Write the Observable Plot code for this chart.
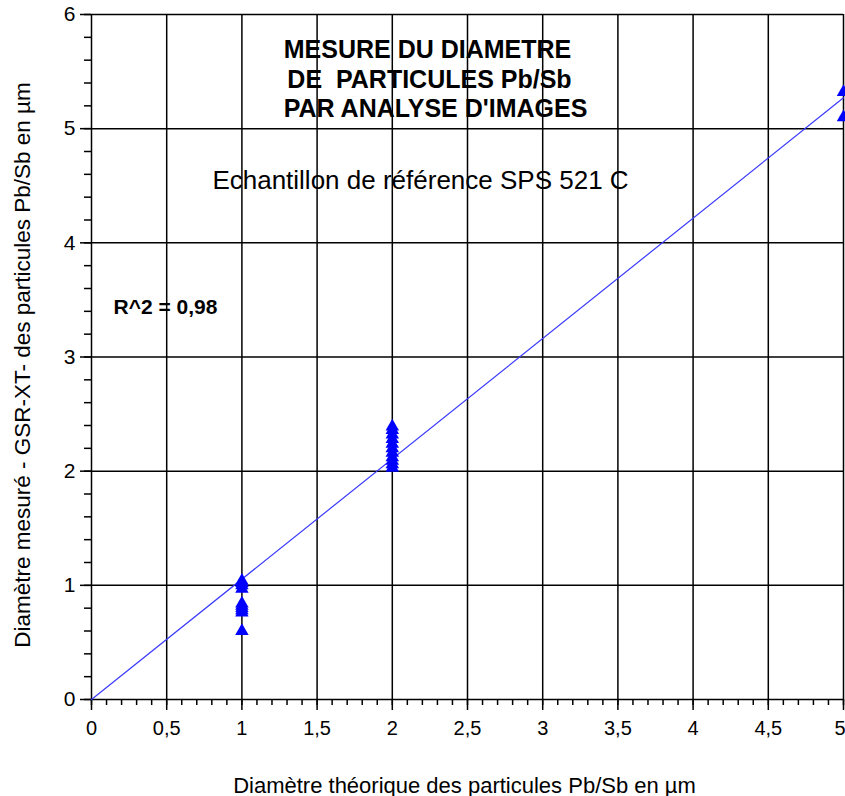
<!DOCTYPE html>
<html><head><meta charset="utf-8">
<script src="https://cdn.jsdelivr.net/npm/d3@7"></script>
<script src="https://cdn.jsdelivr.net/npm/@observablehq/plot@0.6"></script>
<style>body{margin:0;background:#fff}</style>
</head><body><div id="chart"></div>
<script>
// Data
const theoretical1 = 1;
const measuredAt1 = [0.60, 0.76, 0.78, 0.80, 0.82, 0.84, 0.97, 1.00, 1.02, 1.04];
const theoretical2 = 2;
const measuredAt2 = [2.03, 2.06, 2.09, 2.12, 2.16, 2.20, 2.24, 2.28, 2.32, 2.36, 2.39];
const theoretical5 = 5;
const measuredAt5 = [5.10, 5.32];
const trendX = [0, 5];
const trendY = [0, 5.27];

// Axis tick values
const xTicks = [0, 0.5, 1, 1.5, 2, 2.5, 3, 3.5, 4, 4.5, 5];
const yTicks = [0, 1, 2, 3, 4, 5, 6];
const xMinor = d3.range(0, 5.0001, 0.1).map(v => +v.toFixed(1));
const yMinor = d3.range(0, 6.0001, 0.2).map(v => +v.toFixed(1));

// Texts
const titleLines = ["MESURE DU DIAMETRE", "DE  PARTICULES Pb/Sb", "PAR ANALYSE D'IMAGES"];
const subtitle = ["Echantillon de référence SPS 521 C"];
const r2Label = ["R^2 = 0,98"];
const xTitle = ["Diamètre théorique des particules Pb/Sb en µm"];
const yTitle = ["Diamètre mesuré - GSR-XT- des particules Pb/Sb en µm"];

const points = [
  ...measuredAt1.map(y => ({x: theoretical1, y})),
  ...measuredAt2.map(y => ({x: theoretical2, y})),
  ...measuredAt5.map(y => ({x: theoretical5, y}))
];
const trend = trendX.map((x, i) => ({x, y: trendY[i]}));
const fmt = d => String(d).replace(".", ",");
const ink = "#000";
const lastX = xTicks[xTicks.length - 1];

const chart = Plot.plot({
  width: 845,
  height: 796,
  marginLeft: 91,
  marginRight: 2,
  marginTop: 14,
  marginBottom: 97,
  style: {fontFamily: "'Liberation Sans', Arial, sans-serif", fontSize: "20px", color: "#000", background: "#fff"},
  x: {domain: [0, 5]},
  y: {domain: [0, 6]},
  marks: [
    Plot.gridX(xTicks.filter(d => d > 0), {stroke: ink, strokeOpacity: 1, strokeWidth: 1.5}),
    Plot.gridY(yTicks.filter(d => d > 0), {stroke: ink, strokeOpacity: 1, strokeWidth: 1.5}),
    Plot.ruleX([0], {stroke: ink, strokeWidth: 1.5}),
    Plot.ruleY([0], {stroke: ink, strokeWidth: 1.5}),
    Plot.axisX(xMinor, {tickSize: 6, tickFormat: () => "", label: null, strokeWidth: 1.5}),
    Plot.axisX(xTicks, {tickSize: 11, tickPadding: 10, tickFormat: d => d === lastX ? "" : fmt(d), label: null, fontSize: 20, strokeWidth: 1.5}),
    Plot.text([lastX], {x: d => d, text: fmt, frameAnchor: "bottom", textAnchor: "end", lineAnchor: "top", dx: 2, dy: 21, fontSize: 20, fill: ink}),
    Plot.axisY(yMinor, {tickSize: 7, tickFormat: () => "", label: null, strokeWidth: 1.5}),
    Plot.axisY(yTicks, {tickSize: 11, tickPadding: 5, tickFormat: fmt, label: null, fontSize: 21, strokeWidth: 1.5}),
    Plot.line(trend, {x: "x", y: "y", stroke: "#3a3aff", strokeWidth: 1.2}),
    Plot.dot(points, {x: "x", y: "y", symbol: "triangle", r: 5, fill: "#0000ff", stroke: "none"}),
    Plot.text([titleLines[0]], {text: d => d, frameAnchor: "top-left", textAnchor: "middle", lineAnchor: "bottom", dx: 336, dy: 43, fontSize: 25, fontWeight: "bold", fill: ink}),
    Plot.text([titleLines[1]], {text: d => d, frameAnchor: "top-left", textAnchor: "middle", lineAnchor: "bottom", dx: 338, dy: 73, fontSize: 25, fontWeight: "bold", fill: ink}),
    Plot.text([titleLines[2]], {text: d => d, frameAnchor: "top-left", textAnchor: "middle", lineAnchor: "bottom", dx: 344, dy: 102, fontSize: 25, fontWeight: "bold", fill: ink}),
    Plot.text(subtitle, {text: d => d, frameAnchor: "top-left", textAnchor: "middle", lineAnchor: "bottom", dx: 329, dy: 174, fontSize: 26, fill: ink}),
    Plot.text(r2Label, {text: d => d, frameAnchor: "top-left", textAnchor: "start", lineAnchor: "bottom", dx: 22, dy: 299, fontSize: 21, fontWeight: "bold", fill: ink}),
    Plot.text(xTitle, {text: d => d, frameAnchor: "bottom", textAnchor: "middle", lineAnchor: "bottom", dx: -3, dy: 93, fontSize: 22, fill: ink}),
    Plot.text(yTitle, {text: d => d, frameAnchor: "left", textAnchor: "middle", lineAnchor: "middle", rotate: -90, dx: -69, dy: 8, fontSize: 22.5, fill: ink})
  ]
});
document.getElementById("chart").appendChild(chart);
</script>
</body></html>
